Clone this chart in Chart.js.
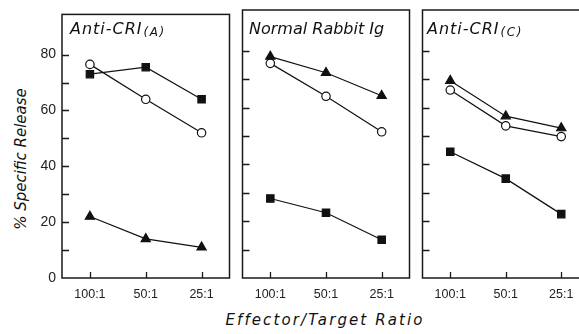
<!DOCTYPE html>
<html><head><meta charset="utf-8">
<script src="https://cdn.jsdelivr.net/npm/chart.js@4.4.0/dist/chart.umd.min.js"></script>
<style>
html,body{margin:0;padding:0;width:579px;height:334px;overflow:hidden;background:#fff;position:relative;}
canvas{position:absolute;top:0;}
.ttl{position:absolute;top:21px;font-family:'DejaVu Sans';font-style:italic;font-size:16px;line-height:16px;color:#111;white-space:nowrap;}
.ttl .sub{font-size:12px;letter-spacing:1.5px;position:relative;top:2px;margin-left:1px;}
#ytitle{position:absolute;font-family:'DejaVu Sans';font-style:italic;font-size:15px;line-height:18px;color:#111;white-space:nowrap;width:220px;text-align:center;left:-89.5px;top:150px;transform:rotate(-90deg);transform-origin:50% 50%;}
#xtitle{position:absolute;font-family:'DejaVu Sans';font-style:italic;font-size:15px;line-height:18px;color:#111;white-space:nowrap;width:300px;text-align:center;left:175px;top:310.7px;letter-spacing:2.1px;}
</style></head><body>
<div id="ytitle">% Specific Release</div>
<div id="xtitle">Effector/Target Ratio</div>
<script>
// ---- data ----
const categories = ['100:1', '50:1', '25:1'];
const panelNames = ['Anti-CRI', 'Normal Rabbit Ig', 'Anti-CRI'];
const panelSubs = ['(A)', '', '(C)'];
const yLabelValues = [0, 20, 40, 60, 80];
const yTickMarks = [10, 20, 30, 40, 50, 60, 70, 80];

const antiA_squares   = [73, 75.5, 64];
const antiA_circles   = [76.5, 64, 52];
const antiA_triangles = [22, 14, 11];

const normal_triangles = [78, 72.3, 64.2];
const normal_circles   = [75.6, 64, 51.5];
const normal_squares   = [28, 23, 13.5];

const antiC_triangles = [69.5, 57, 52.8];
const antiC_circles   = [66.2, 53.6, 49.8];
const antiC_squares   = [44.5, 35, 22.5];

const panelSeries = [
  {squares: antiA_squares, circles: antiA_circles, triangles: antiA_triangles},
  {squares: normal_squares, circles: normal_circles, triangles: normal_triangles},
  {squares: antiC_squares, circles: antiC_circles, triangles: antiC_triangles},
];

// ---- layout / style ----
const geom = [
  {left: 0,   width: 236, axisW: 62, padR: 4, labels: true},
  {left: 236, width: 180, axisW: 5,  padR: 4, labels: false},
  {left: 416, width: 180, axisW: 3,  padR: 7, labels: false},
];
const INK = '#111';
const Y_MAX = 94.4;

const framePlugin = {
  id: 'frame',
  afterDraw(chart) {
    const ctx = chart.ctx, a = chart.chartArea;
    const xs = chart.scales.x, ys = chart.scales.y;
    ctx.save();
    ctx.strokeStyle = '#1a1a1a';
    ctx.lineWidth = 1.5;
    ctx.strokeRect(a.left, a.top, a.right - a.left, a.bottom - a.top);
    ctx.lineWidth = 1.3;
    ctx.beginPath();
    for (const v of yTickMarks) {
      const y = Math.round(ys.getPixelForValue(v)) + 0.5;
      ctx.moveTo(a.left, y);
      ctx.lineTo(a.left + 7, y);
    }
    for (let i = 0; i < categories.length; i++) {
      const x = Math.round(xs.getPixelForValue(i)) + 0.5;
      ctx.moveTo(x, a.bottom);
      ctx.lineTo(x, a.bottom - 6);
    }
    ctx.stroke();
    ctx.restore();
  }
};

function ds(data, style) {
  const base = {
    data, borderColor: INK, borderWidth: 1.2, tension: 0,
    pointBorderColor: INK, pointBorderWidth: 1.2, pointHoverRadius: 0
  };
  if (style === 'square') Object.assign(base, {pointStyle: 'rect', pointRadius: 5.2, pointBackgroundColor: INK});
  if (style === 'circle') Object.assign(base, {pointStyle: 'circle', pointRadius: 4.2, pointBackgroundColor: '#fff'});
  if (style === 'triangle') Object.assign(base, {pointStyle: 'triangle', pointRadius: 5.3, pointBackgroundColor: INK});
  return base;
}

geom.forEach((g, i) => {
  const cv = document.createElement('canvas');
  cv.width = g.width; cv.height = 334;
  cv.style.left = g.left + 'px';
  cv.style.width = g.width + 'px'; cv.style.height = '334px';
  document.body.appendChild(cv);

  const s = panelSeries[i];
  new Chart(cv, {
    type: 'line',
    data: {
      labels: categories,
      datasets: [ds(s.circles, 'circle'), ds(s.squares, 'square'), ds(s.triangles, 'triangle')]
    },
    options: {
      responsive: false, animation: false, devicePixelRatio: 1,
      layout: {padding: {top: 10, right: g.padR, bottom: 0, left: 0}},
      plugins: {legend: {display: false}, tooltip: {enabled: false}, title: {display: false}},
      events: [],
      scales: {
        x: {
          type: 'category', offset: true,
          grid: {display: false, drawTicks: false},
          border: {display: false},
          ticks: {color: '#222', font: {family: "'Liberation Sans'", size: 12.5}, padding: 9, maxRotation: 0, autoSkip: false},
          afterFit: sc => { sc.height = 56; }
        },
        y: {
          min: 0, max: Y_MAX,
          grid: {display: false, drawTicks: false},
          border: {display: false},
          ticks: {
            display: g.labels, stepSize: 10, padding: 6, color: '#222',
            font: {family: "'Liberation Sans'", size: 14},
            callback: v => yLabelValues.includes(v) ? String(v) : ''
          },
          afterFit: sc => { sc.width = g.axisW; }
        }
      }
    },
    plugins: [framePlugin]
  });

  const t = document.createElement('div');
  t.className = 'ttl';
  t.style.left = (g.left + g.axisW + 8) + 'px';
  const m = document.createElement('span');
  m.textContent = panelNames[i];
  if (panelSubs[i]) m.style.letterSpacing = '1px';
  t.appendChild(m);
  if (panelSubs[i]) {
    const sb = document.createElement('span');
    sb.className = 'sub';
    sb.textContent = panelSubs[i];
    t.appendChild(sb);
  }
  document.body.appendChild(t);
});
</script>
</body></html>
